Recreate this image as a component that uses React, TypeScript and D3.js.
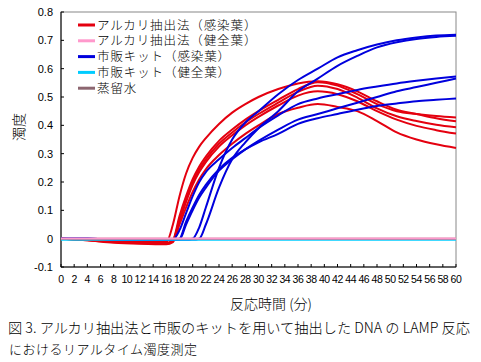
import React, { useMemo } from 'react';
import * as d3 from 'd3';

// sampling times (min)
const times = [0, 4, 8, 12, 16, 17, 18, 19, 20, 21, 22, 24, 26, 28, 30, 33, 36, 39, 42, 45, 48, 51, 54, 57, 60];

// アルカリ抽出法（感染葉）
const alkaliInfected = [
  [0, -0.005, -0.01, -0.012, -0.012, 0.05, 0.15, 0.23, 0.285, 0.325, 0.355, 0.405, 0.445, 0.475, 0.5, 0.528, 0.548, 0.556, 0.545, 0.52, 0.485, 0.455, 0.44, 0.425, 0.414],
  [0, -0.004, -0.009, -0.013, -0.016, -0.005, 0.08, 0.15, 0.21, 0.255, 0.29, 0.345, 0.385, 0.42, 0.45, 0.49, 0.528, 0.552, 0.54, 0.51, 0.475, 0.45, 0.44, 0.433, 0.428],
  [0, -0.006, -0.012, -0.016, -0.018, -0.008, 0.07, 0.14, 0.2, 0.245, 0.28, 0.335, 0.375, 0.41, 0.44, 0.48, 0.518, 0.54, 0.528, 0.498, 0.46, 0.432, 0.415, 0.402, 0.393],
  [0, -0.006, -0.014, -0.018, -0.02, -0.012, 0.06, 0.13, 0.19, 0.235, 0.27, 0.325, 0.365, 0.4, 0.43, 0.47, 0.505, 0.52, 0.51, 0.485, 0.45, 0.42, 0.398, 0.383, 0.371],
  [0, -0.004, -0.01, -0.014, -0.016, -0.01, 0.05, 0.11, 0.165, 0.21, 0.245, 0.295, 0.335, 0.37, 0.4, 0.44, 0.462, 0.475, 0.465, 0.45, 0.415, 0.375, 0.35, 0.333, 0.32],
];

// 市販キット（感染葉）
const kitInfected = [
  [0, 0, -0.002, -0.003, -0.003, -0.003, -0.003, -0.003, 0, 0.04, 0.11, 0.25, 0.35, 0.41, 0.45, 0.51, 0.56, 0.6, 0.64, 0.665, 0.685, 0.7, 0.71, 0.717, 0.72],
  [0, 0, -0.002, -0.003, -0.003, -0.003, -0.003, -0.003, -0.003, 0, 0.05, 0.18, 0.28, 0.34, 0.39, 0.45, 0.52, 0.565, 0.61, 0.645, 0.675, 0.693, 0.705, 0.712, 0.716],
  [0, 0, -0.002, -0.003, -0.003, -0.003, 0.03, 0.09, 0.15, 0.2, 0.235, 0.28, 0.32, 0.355, 0.39, 0.435, 0.475, 0.495, 0.51, 0.525, 0.537, 0.548, 0.557, 0.565, 0.572],
  [0, 0, -0.002, -0.003, -0.003, -0.003, -0.003, 0.05, 0.1, 0.145, 0.18, 0.24, 0.28, 0.315, 0.345, 0.385, 0.42, 0.44, 0.46, 0.48, 0.5, 0.52, 0.535, 0.55, 0.565],
  [0, 0, -0.002, -0.003, -0.003, -0.003, 0, 0.06, 0.11, 0.155, 0.19, 0.245, 0.285, 0.315, 0.34, 0.37, 0.405, 0.425, 0.44, 0.455, 0.468, 0.477, 0.485, 0.49, 0.495],
];

// 健全葉 / 蒸留水
const alkaliHealthy = [0.001, 0.001, 0.001, 0.001, 0.001, 0.001, 0.001, 0.001, 0.001, 0.001, 0.001, 0.001, 0.001, 0.001, 0.001, 0.001, 0.001, 0.001, 0.001, 0.001, 0.001, 0.001, 0.001, 0.001, 0.001];
const kitHealthy = [-0.004, -0.004, -0.004, -0.004, -0.004, -0.004, -0.004, -0.004, -0.004, -0.004, -0.004, -0.004, -0.004, -0.004, -0.004, -0.004, -0.004, -0.004, -0.004, -0.004, -0.004, -0.004, -0.004, -0.004, -0.004];
const water = [0, 0, 0, 0, 0, 0, 0, 0, 0, 0, 0, 0, 0, 0, 0, 0, 0, 0, 0, 0, 0, 0, 0, 0, 0];

const legendLabels = ['アルカリ抽出法（感染葉）', 'アルカリ抽出法（健全葉）', '市販キット（感染葉）', '市販キット（健全葉）', '蒸留水'];
const legendColors = ['#e4000f', '#ff99cc', '#0000dd', '#00ccff', '#8c6670'];

const xTicks = d3.range(0, 61, 2);
const yTicks = [-0.1, 0, 0.1, 0.2, 0.3, 0.4, 0.5, 0.6, 0.7, 0.8];

const W = 481;
const H = 362;
const jp = '"Noto Sans CJK JP", "Noto Sans", sans-serif';
const num = '"Liberation Sans", Arial, sans-serif';

export default function App() {
  const x = useMemo(() => d3.scaleLinear().domain([0, 60]).range([61, 456]), []);
  const y = useMemo(() => d3.scaleLinear().domain([-0.1, 0.8]).range([267, 12]), []);

  const line = d3
    .line<number>()
    .x((_, i) => x(times[i]))
    .y((d) => y(d))
    .curve(d3.curveMonotoneX);

  const [x0, x1] = x.range();
  const [y0, y1] = y.range();

  return (
    <svg width={W} height={H} style={{ position: 'absolute', left: 0, top: 0, background: '#fff' }}>
      {/* plot frame */}
      <rect x={x0} y={y1} width={x1 - x0} height={y0 - y1} fill="none" stroke="#888" strokeWidth={1} />
      <line x1={x0} x2={x0} y1={y1} y2={y0} stroke="#000" />
      <line x1={x0} x2={x1} y1={y0} y2={y0} stroke="#000" />

      {/* y ticks */}
      {yTicks.map((t) => (
        <g key={'y' + t}>
          <line x1={x0} x2={x0 + 3} y1={y(t)} y2={y(t)} stroke="#000" />
          <text x={53} y={y(t)} dy="0.35em" textAnchor="end" fontFamily={num} fontSize={11}>
            {t === 0 ? '0' : t.toFixed(1)}
          </text>
        </g>
      ))}

      {/* x ticks */}
      {xTicks.map((t) => (
        <g key={'x' + t}>
          <line x1={x(t)} x2={x(t)} y1={y0} y2={y0 - 3} stroke="#000" />
          <text x={x(t)} y={283} textAnchor="middle" fontFamily={num} fontSize={10.5} letterSpacing={-0.4}>
            {t}
          </text>
        </g>
      ))}

      {/* data */}
      <g fill="none" strokeWidth={2} strokeLinejoin="round">
        {alkaliInfected.map((s, i) => (
          <path key={'r' + i} d={line(s) || ''} stroke={legendColors[0]} />
        ))}
        {kitInfected.map((s, i) => (
          <path key={'b' + i} d={line(s) || ''} stroke={legendColors[2]} />
        ))}
        <path d={line(kitHealthy) || ''} stroke={legendColors[3]} />
        <path d={line(water) || ''} stroke={legendColors[4]} />
        <path d={line(alkaliHealthy) || ''} stroke={legendColors[1]} />
      </g>

      {/* legend */}
      {legendLabels.map((l, i) => (
        <g key={l} transform={`translate(78, ${25 + i * 15.8})`}>
          <line x1={0} x2={17} y1={0} y2={0} stroke={legendColors[i]} strokeWidth={3} />
          <text x={19} y={0} dy="0.36em" fontFamily={jp} fontSize={12.5} fontWeight={300} letterSpacing={0.9}>
            {l}
          </text>
        </g>
      ))}

      {/* axis titles */}
      <text transform="translate(19, 127) rotate(-90)" textAnchor="middle" dy="0.36em" fontFamily={jp} fontSize={14} fontWeight={300}>
        濁度
      </text>
      <text x={271} y={304} textAnchor="middle" dy="0.36em" fontFamily={jp} fontSize={14} fontWeight={300}>
        反応時間 (分)
      </text>

      {/* caption */}
      <text x={8} y={333} fontFamily={jp} fontSize={14} fontWeight={300} textLength={462} lengthAdjust="spacingAndGlyphs">
        図 3. アルカリ抽出法と市販のキットを用いて抽出した DNA の LAMP 反応
      </text>
      <text x={9} y={354} fontFamily={jp} fontSize={13} fontWeight={300} letterSpacing={0.5}>
        におけるリアルタイム濁度測定
      </text>
    </svg>
  );
}
